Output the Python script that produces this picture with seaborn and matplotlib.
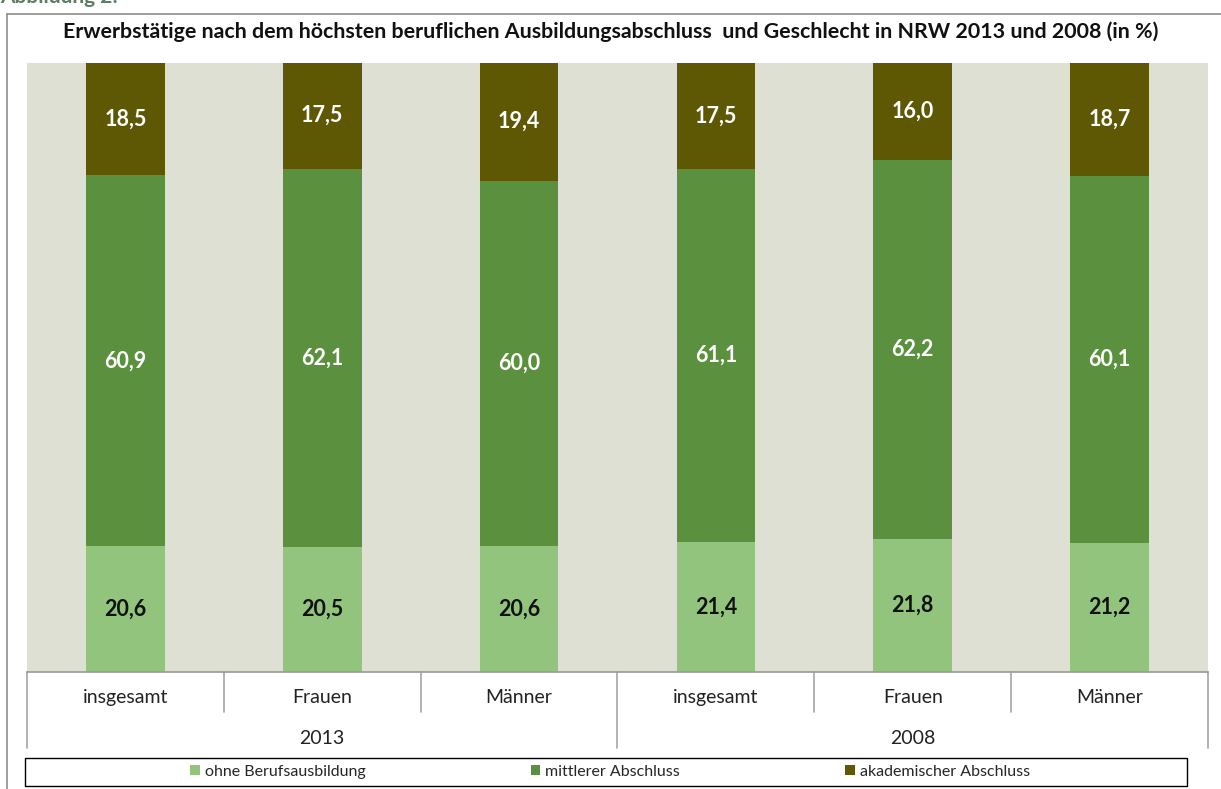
import matplotlib
matplotlib.use("Agg")
import matplotlib.pyplot as plt
import seaborn as sns
import pandas as pd
from matplotlib.patches import Rectangle
from matplotlib.lines import Line2D

# ---- data ----
groups = ["insgesamt", "Frauen", "Männer", "insgesamt", "Frauen", "Männer"]
years = ["2013", "2013", "2013", "2008", "2008", "2008"]
ohne = [20.6, 20.5, 20.6, 21.4, 21.8, 21.2]
mittlerer = [60.9, 62.1, 60.0, 61.1, 62.2, 60.1]
akademisch = [18.5, 17.5, 19.4, 17.5, 16.0, 18.7]
series_names = ["ohne Berufsausbildung", "mittlerer Abschluss", "akademischer Abschluss"]
colors = ["#93c47d", "#5b913e", "#5e5704"]
title = "Erwerbstätige nach dem höchsten beruflichen Ausbildungsabschluss  und Geschlecht in NRW 2013 und 2008 (in %)"

sns.set_theme(style="white")
plt.rcParams["font.family"] = ["Lato", "DejaVu Sans"]

keys = [f"{g}_{y}_{i}" for i, (g, y) in enumerate(zip(groups, years))]
df = pd.DataFrame({"key": keys, "ohne": ohne, "mittlerer": mittlerer, "akademisch": akademisch})
df["b2"] = df["ohne"]
df["b3"] = df["ohne"] + df["mittlerer"]

W, H = 1221, 789
fig = plt.figure(figsize=(W / 100, H / 100), dpi=100)
ax = fig.add_axes([27 / W, 1 - 672 / H, 1181 / W, 609.5 / H])
ax.set_facecolor("#dfe0d4")

sns.barplot(data=df, x="key", y="ohne", color=colors[0], width=0.4, ax=ax,
            saturation=1, order=keys, linewidth=0)
sns.barplot(data=df, x="key", y="mittlerer", color=colors[1], width=0.4, ax=ax,
            saturation=1, order=keys, bottom=df["b2"].values, linewidth=0)
sns.barplot(data=df, x="key", y="akademisch", color=colors[2], width=0.4, ax=ax,
            saturation=1, order=keys, bottom=df["b3"].values, linewidth=0)

ax.set_xlim(-0.5, 5.5)
ax.set_ylim(0, 100)
ax.set_yticks([])
ax.set_ylabel("")
ax.set_xlabel("")
ax.set_xticks(range(6))
ax.set_xticklabels(groups, fontsize=14, color="#222222")
ax.tick_params(axis="x", length=0, pad=12)
for s in ["top", "right", "left"]:
    ax.spines[s].set_visible(False)
ax.spines["bottom"].set_color("#999999")
ax.spines["bottom"].set_linewidth(1.2)

# value labels
for i in range(6):
    ax.text(i, ohne[i] / 2, f"{ohne[i]:.1f}".replace(".", ","), ha="center", va="center",
            fontsize=15.5, fontweight="bold", color="#111111")
    ax.text(i, ohne[i] + mittlerer[i] / 2, f"{mittlerer[i]:.1f}".replace(".", ","),
            ha="center", va="center", fontsize=15.5, fontweight="bold", color="white")
    ax.text(i, ohne[i] + mittlerer[i] + akademisch[i] / 2, f"{akademisch[i]:.1f}".replace(".", ","),
            ha="center", va="center", fontsize=15.5, fontweight="bold", color="white")

# category axis separators and year labels
tr = ax.get_xaxis_transform()
short = -(712 - 672) / 609.5
full = -(748 - 672) / 609.5
for xs in [0.5, 1.5, 3.5, 4.5]:
    ax.plot([xs, xs], [0, short], transform=tr, color="#a6a6a6", lw=1.2, clip_on=False)
for xs in [-0.5, 2.5, 5.5]:
    ax.plot([xs, xs], [0, full], transform=tr, color="#a6a6a6", lw=1.2, clip_on=False)
year_labels = list(dict.fromkeys(years))
for j, yl in enumerate(year_labels):
    ax.text(1 + 3 * j, -(739 - 672) / 609.5, yl, transform=tr, ha="center", va="center",
            fontsize=14, color="#222222")

# title
fig.text(611 / W, 1 - 32 / H, title, ha="center", va="center", fontsize=15.4,
         fontweight="bold", color="#111111")

# cut-off heading (only its lower part is visible in the reference)
fig.text(0.0, 1 - 3 / H, "Abbildung 2:", ha="left", va="baseline", fontsize=15,
         fontweight="bold", color="#5d7d62")

# outer frame lines
fig.add_artist(Line2D([7 / W, 1.0], [1 - 14 / H, 1 - 14 / H], color="#8c8c8c", lw=1.2))
fig.add_artist(Line2D([7 / W, 7 / W], [1 - 14 / H, 0.0], color="#8c8c8c", lw=1.2))

# legend box
fig.add_artist(Rectangle((25 / W, 1 - 786 / H), (1187 - 25) / W, 28 / H,
                         transform=fig.transFigure, facecolor="white",
                         edgecolor="black", lw=1.0))
handles = [Rectangle((0, 0), 1, 1, facecolor=c, edgecolor="none") for c in colors]
leg = fig.legend(handles, series_names, loc="center", bbox_to_anchor=(610 / W, 1 - 772 / H),
                 ncol=3, frameon=False, fontsize=11.5, handlelength=0.6, handleheight=0.6,
                 handletextpad=0.3, columnspacing=10.35)

fig.savefig("out.png", dpi=100)
